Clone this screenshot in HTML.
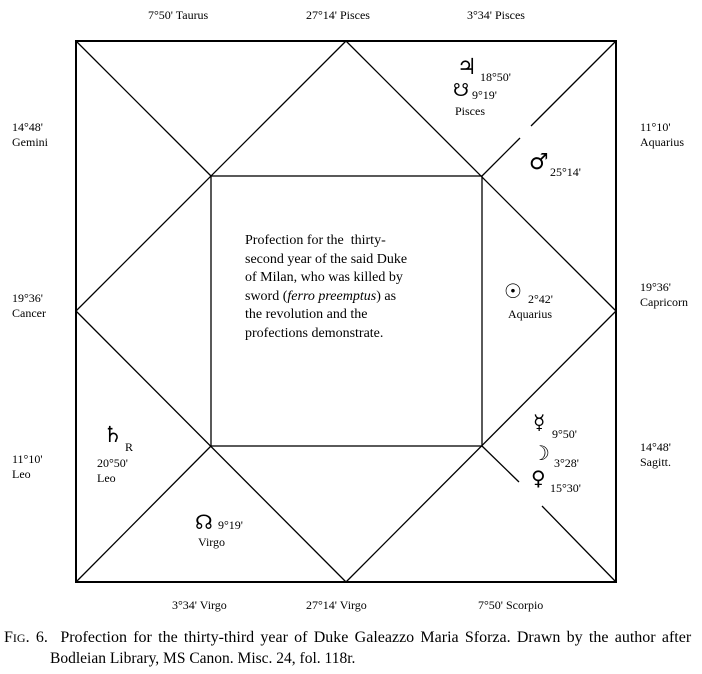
<!DOCTYPE html>
<html><head><style>
body{margin:0;background:#fff;width:702px;height:674px;overflow:hidden;font-family:"Liberation Serif",serif;}
.t{position:absolute;font-size:12px;color:#000;line-height:15px;white-space:nowrap}
.g{position:absolute;font-size:22px;line-height:22px;font-family:"DejaVu Sans",sans-serif;font-weight:bold}
</style></head><body>
<svg width="702" height="674" style="position:absolute;left:0;top:0">
<g stroke="#000" fill="none">
<rect x="76" y="41" width="540" height="541" stroke-width="2"/>
<rect x="211" y="176" width="271" height="270" stroke-width="1.3"/>
<g stroke-width="1.3">
<line x1="346" y1="41" x2="76" y2="311"/>
<line x1="346" y1="41" x2="616" y2="311"/>
<line x1="76" y1="311" x2="346" y2="582"/>
<line x1="616" y1="311" x2="346" y2="582"/>
<line x1="76" y1="41" x2="211" y2="176"/>
<line x1="76" y1="582" x2="211" y2="446"/>
<line x1="616" y1="41" x2="531" y2="126"/>
<line x1="520" y1="138" x2="482" y2="176"/>
<line x1="482" y1="446" x2="519" y2="482"/>
<line x1="542" y1="506" x2="616" y2="582"/>
</g></g></svg>
<div class="t" style="left:148px;top:8px">7°50' Taurus</div>
<div class="t" style="left:306px;top:8px">27°14' Pisces</div>
<div class="t" style="left:467px;top:8px">3°34' Pisces</div>
<div class="t" style="left:12px;top:120px">14°48'<br>Gemini</div>
<div class="t" style="left:640px;top:120px">11°10'<br>Aquarius</div>
<div class="t" style="left:12px;top:291px">19°36'<br>Cancer</div>
<div class="t" style="left:640px;top:280px">19°36'<br>Capricorn</div>
<div class="t" style="left:12px;top:452px">11°10'<br>Leo</div>
<div class="t" style="left:640px;top:440px">14°48'<br>Sagitt.</div>
<div class="t" style="left:172px;top:598px">3°34' Virgo</div>
<div class="t" style="left:306px;top:598px">27°14' Virgo</div>
<div class="t" style="left:478px;top:598px">7°50' Scorpio</div>
<div class="t" style="left:245px;top:232px;font-size:14px;line-height:18.5px">Profection for the&nbsp; thirty-<br>second year of the said Duke<br>of Milan, who was killed by<br>sword (<i>ferro preemptus</i>) as<br>the revolution and the<br>profections demonstrate.</div>
<div class="g" style="left:457px;top:57px">♃</div><div class="t" style="left:480px;top:70px">18°50'</div>
<div class="g" style="left:453px;top:80px;font-size:18px">☋</div><div class="t" style="left:472px;top:88px">9°19'</div>
<div class="t" style="left:455px;top:104px">Pisces</div>
<div class="g" style="left:529px;top:152px">♂</div><div class="t" style="left:550px;top:165px">25°14'</div>
<div class="g" style="left:504px;top:280px;font-size:20px">☉</div><div class="t" style="left:528px;top:292px">2°42'</div>
<div class="t" style="left:508px;top:307px">Aquarius</div>
<div class="g" style="left:533px;top:411px;font-size:20px">☿</div><div class="t" style="left:552px;top:427px">9°50'</div>
<div class="g" style="left:532px;top:442px;font-size:20px">☽</div><div class="t" style="left:554px;top:456px">3°28'</div>
<div class="g" style="left:531px;top:467px;font-size:20px">♀</div><div class="t" style="left:550px;top:481px">15°30'</div>
<div class="g" style="left:103px;top:425px">♄</div><div class="t" style="left:125px;top:440px">R</div>
<div class="t" style="left:97px;top:456px">20°50'<br>Leo</div>
<div class="g" style="left:195px;top:511px;font-size:20px">☊</div><div class="t" style="left:218px;top:518px">9°19'</div>
<div class="t" style="left:198px;top:535px">Virgo</div>
<div class="t" style="left:4px;top:627px;font-size:16px;line-height:21px;word-spacing:2.25px">F<span style="font-size:12px">IG</span>. 6.&nbsp; Profection for the thirty-third year of Duke Galeazzo Maria Sforza. Drawn by the author after</div>
<div class="t" style="left:50px;top:648px;font-size:15.5px;line-height:21px">Bodleian Library, MS Canon. Misc. 24, fol. 118r.</div>
</body></html>
